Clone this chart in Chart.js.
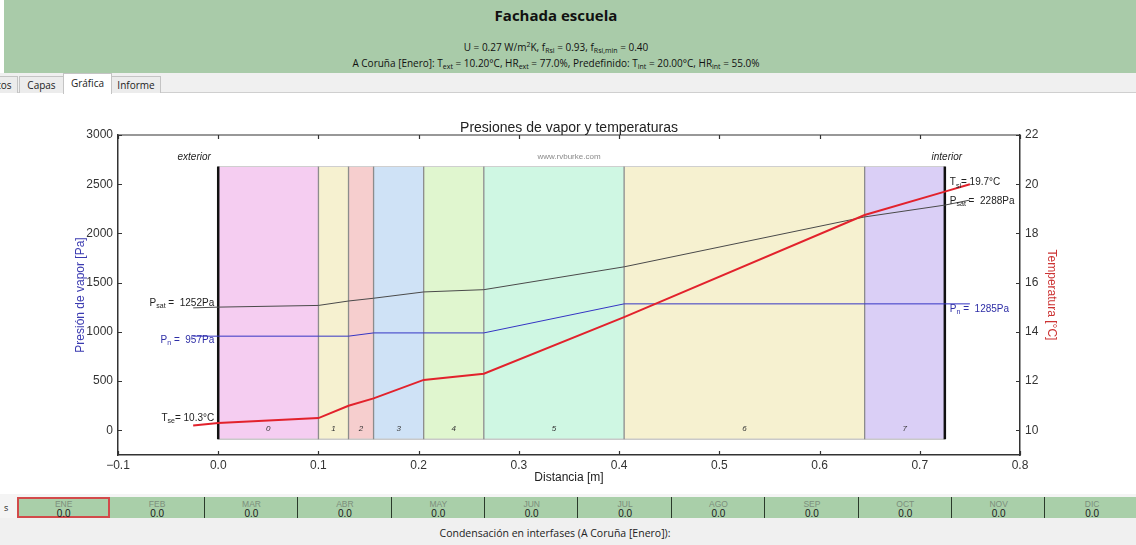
<!DOCTYPE html>
<html>
<head>
<meta charset="utf-8">
<script src="https://cdn.jsdelivr.net/npm/chart.js@4.4.0/dist/chart.umd.min.js"></script>
<style>
  body { margin: 0; width: 1136px; height: 545px; overflow: hidden; background: #fff; font-family: "Open Sans", sans-serif; position: relative; }
  #header { position: absolute; left: 4px; top: 0; width: 1132px; height: 73px; background: #a9cba9; color: #111; }
  #header div { position: absolute; left: 0; width: 1104px; text-align: center; white-space: nowrap; }
  #header .big { top: 5px; font-size: 15px; font-weight: bold; }
  #header .small { font-size: 10px; }
  sub { font-size: 7px; vertical-align: -2px; }
  sup { font-size: 7px; vertical-align: 4px; }
  #tabs { position: absolute; left: 0; top: 73px; width: 1136px; height: 19px; background: #f0f0f0; border-bottom: 1px solid #cfcfcf; }
  .tab { position: absolute; top: 3px; height: 16px; font-size: 10px; line-height: 16px; text-align: center; background: #ececec; border: 1px solid #c4c4c4; border-bottom: none; color: #222; }
  .tab.sel { top: 0; height: 20px; line-height: 19px; background: #fff; }
  #chartBox { position: absolute; left: 0; top: 96px; width: 1136px; height: 394px; }
  #bottom { position: absolute; left: 0; top: 518px; width: 1136px; height: 27px; background: #f0f0f0; }
  #months { position: absolute; left: 0; top: 494px; width: 1136px; height: 24px; background: #f4f4f4; }
  .cell { position: absolute; top: 3px; height: 21px; background: #a9cfa9; text-align: center; }
  .cell .m { font-size: 8.5px; line-height: 9px; color: #7c8e7c; font-family: "Liberation Sans", sans-serif; }
  .cell .v { font-size: 10px; line-height: 10px; color: #1a1a1a; font-family: "Liberation Sans", sans-serif; }
</style>
</head>
<body>
<div id="header">
  <div class="big">Fachada escuela</div>
  <div class="small" style="top:40px">U = 0.27 W/m<sup>2</sup>K, f<sub>Rsi</sub> = 0.93, f<sub>Rsi,min</sub> = 0.40</div>
  <div class="small" style="top:56px">A Coruña [Enero]: T<sub>ext</sub> = 10.20°C, HR<sub>ext</sub> = 77.0%, Predefinido: T<sub>int</sub> = 20.00°C, HR<sub>int</sub> = 55.0%</div>
</div>
<div id="tabs">
  <div class="tab" style="left:-22px;width:38px">Datos</div>
  <div class="tab" style="left:19px;width:43px">Capas</div>
  <div class="tab sel" style="left:63px;width:47px">Gráfica</div>
  <div class="tab" style="left:111px;width:48px">Informe</div>
</div>
<div id="chartBox"><canvas id="chart"></canvas></div>
<div id="months"></div>
<div id="bottom"><div style="text-align:center;width:1110px;font-size:10.5px;line-height:30px;color:#222">Condensación en interfases (A Coruña [Enero]):</div></div>
<script>
// distance through the wall [m] and the values on each point
const distance = [-0.025, 0, 0.1, 0.13, 0.155, 0.205, 0.265, 0.405, 0.645, 0.725, 0.75];
const temperature = [10.2, 10.3, 10.5, 11.0, 11.3, 12.05, 12.3, 14.6, 18.75, 19.7, 20.0];
const pSat = [1244, 1252, 1269, 1314, 1342, 1406, 1429, 1661, 2168, 2288, 2339];
const pVapor = [957, 957, 957, 957, 990, 990, 990, 1285, 1285, 1285, 1285];

// axis ticks
const distanceTicks = [-0.1, 0, 0.1, 0.2, 0.3, 0.4, 0.5, 0.6, 0.7, 0.8];
const pressureTicks = [0, 500, 1000, 1500, 2000, 2500, 3000];
const temperatureTicks = [10, 12, 14, 16, 18, 20, 22];

// layers of the wall
const layerEdges = [0, 0.1, 0.13, 0.155, 0.205, 0.265, 0.405, 0.645, 0.725];
const layerNames = ['0', '1', '2', '3', '4', '5', '6', '7'];
const layerColors = ['#f5cdf1', '#f6f1d0', '#f6cece', '#cfe2f6', '#e0f6cf', '#cff7e3', '#f6f1d0', '#dacff6'];
const layerTop = 2680;
const layerBottom = -90;

// monthly condensation bar
const months = ['ENE', 'FEB', 'MAR', 'ABR', 'MAY', 'JUN', 'JUL', 'AGO', 'SEP', 'OCT', 'NOV', 'DIC'];
const condensation = [0, 0, 0, 0, 0, 0, 0, 0, 0, 0, 0, 0];

// month strip
const strip = document.getElementById('months');
strip.innerHTML = '<div style="position:absolute;left:4px;top:7px;font-size:9px;color:#222">s</div>';
months.forEach((m, i) => {
  const c = document.createElement('div');
  c.className = 'cell';
  c.style.left = (17 + i * 93.4) + 'px';
  c.style.width = '93.4px';
  if (i === 0) {
    c.style.boxSizing = 'border-box';
    c.style.border = '2px solid #d24a4a';
  } else if (i > 1) {
    c.style.borderLeft = '1.5px solid #2b3a2b';
  }
  c.innerHTML = '<div class="m" style="margin-top:' + (i === 0 ? 1 : 3) + 'px">' + m + '</div><div class="v">' + condensation[i].toFixed(1) + '</div>';
  strip.appendChild(c);
});

const pts = (ys) => distance.map((d, i) => ({x: d, y: ys[i]}));
const datasets = [];

datasets.push({data: pts(temperature), yAxisID: 'y2', borderColor: '#e2222c', borderWidth: 2, order: 0});
datasets.push({data: pts(pSat), yAxisID: 'y', borderColor: '#4a4a4a', borderWidth: 1, order: 0});
datasets.push({data: pts(pVapor), yAxisID: 'y', borderColor: '#3535c4', borderWidth: 1, order: 0});

layerEdges.forEach((e, i) => {
  const outer = i === 0 || i === layerEdges.length - 1;
  datasets.push({
    data: [{x: e, y: layerBottom}, {x: e, y: layerTop}], yAxisID: 'y',
    borderColor: outer ? '#111' : '#8c8c8c', borderWidth: outer ? 2.5 : 1.3, order: 1
  });
});
datasets.push({
  data: [{x: layerEdges[0], y: layerBottom}, {x: layerEdges[layerEdges.length - 1], y: layerBottom}], yAxisID: 'y',
  borderColor: '#c9c9c9', borderWidth: 1.5, order: 2
});
layerNames.forEach((n, i) => {
  datasets.push({
    data: [{x: layerEdges[i], y: layerTop}, {x: layerEdges[i + 1], y: layerTop}], yAxisID: 'y',
    borderColor: '#cfcfcf', borderWidth: 1, backgroundColor: layerColors[i],
    fill: {value: layerBottom}, order: 3
  });
});

function subText(ctx, parts, x, y, align) {
  const widths = parts.map(p => {
    ctx.font = p[1] ? '7px "Liberation Sans"' : '10px "Liberation Sans"';
    return ctx.measureText(p[0]).width;
  });
  const total = widths.reduce((a, b) => a + b, 0);
  let cx = align === 'right' ? x - total : x;
  ctx.textAlign = 'left';
  ctx.textBaseline = 'middle';
  parts.forEach((p, i) => {
    ctx.font = p[1] ? '7px "Liberation Sans"' : '10px "Liberation Sans"';
    ctx.fillText(p[0], cx, p[1] ? y + 3 : y);
    cx += widths[i];
  });
}

const overlay = {
  id: 'overlay',
  afterDatasetsDraw(chart) {
    const {ctx, chartArea: a, scales} = chart;
    const x = scales.x, y = scales.y, y2 = scales.y2;
    ctx.save();
    ctx.strokeStyle = '#333';
    ctx.lineWidth = 1.2;
    ctx.beginPath();
    ctx.moveTo(a.left, a.top); ctx.lineTo(a.right, a.top);
    x.ticks.forEach(t => {
      const px = Math.round(x.getPixelForValue(t.value)) + 0.5;
      ctx.moveTo(px, a.bottom); ctx.lineTo(px, a.bottom - 4);
      ctx.moveTo(px, a.top); ctx.lineTo(px, a.top + 4);
    });
    y.ticks.forEach(t => {
      const py = Math.round(y.getPixelForValue(t.value)) + 0.5;
      ctx.moveTo(a.left, py); ctx.lineTo(a.left + 4, py);
    });
    y2.ticks.forEach(t => {
      const py = Math.round(y2.getPixelForValue(t.value)) + 0.5;
      ctx.moveTo(a.right, py); ctx.lineTo(a.right - 4, py);
    });
    ctx.stroke();

    ctx.fillStyle = '#222';
    ctx.textAlign = 'center';
    ctx.textBaseline = 'middle';
    ctx.font = '14px "Liberation Sans"';
    ctx.fillText('Presiones de vapor y temperaturas', (a.left + a.right) / 2, a.top - 7);

    ctx.font = 'italic 10px "Liberation Sans"';
    ctx.fillText('exterior', x.getPixelForValue(-0.024), y.getPixelForValue(2775));
    ctx.fillText('interior', x.getPixelForValue(0.727), y.getPixelForValue(2775));
    ctx.fillStyle = '#8a8a8a';
    ctx.font = '8px "Liberation Sans"';
    ctx.fillText('www.rvburke.com', x.getPixelForValue(0.35), y.getPixelForValue(2775));

    ctx.fillStyle = '#333';
    ctx.font = 'italic 8px "Liberation Sans"';
    layerNames.forEach((n, i) => {
      ctx.fillText(n, x.getPixelForValue((layerEdges[i] + layerEdges[i + 1]) / 2), y.getPixelForValue(20));
    });

    const last = layerEdges.length - 1;
    const iIn = distance.indexOf(layerEdges[last]);
    const xl = x.getPixelForValue(0) - 4;
    const xr = x.getPixelForValue(layerEdges[last]) + 5;
    ctx.fillStyle = '#222';
    subText(ctx, [['P', 0], ['sat', 1], [' =  ' + pSat[1] + 'Pa', 0]], xl, y.getPixelForValue(pSat[1]) - 4, 'right');
    subText(ctx, [['T', 0], ['se', 1], ['= ' + temperature[1].toFixed(1) + '°C', 0]], xl, y2.getPixelForValue(temperature[1]) - 5, 'right');
    subText(ctx, [['T', 0], ['si', 1], ['= ' + temperature[iIn].toFixed(1) + '°C', 0]], xr, y2.getPixelForValue(temperature[iIn]) - 9, 'left');
    subText(ctx, [['P', 0], ['sat', 1], [' =  ' + pSat[iIn] + 'Pa', 0]], xr, y.getPixelForValue(pSat[iIn]) - 4, 'left');
    ctx.fillStyle = '#2e2ea6';
    subText(ctx, [['P', 0], ['n', 1], [' =  ' + pVapor[1] + 'Pa', 0]], xl, y.getPixelForValue(pVapor[1]) + 4, 'right');
    subText(ctx, [['P', 0], ['n', 1], [' =  ' + pVapor[iIn] + 'Pa', 0]], xr, y.getPixelForValue(pVapor[iIn]) + 5, 'left');
    ctx.restore();
  }
};

const tickFont = {family: 'Liberation Sans', size: 12};
const setTicks = (list) => (s) => { s.ticks = list.map(v => ({value: v})); };
new Chart(document.getElementById('chart'), {
  type: 'scatter',
  data: {datasets: datasets},
  options: {
    responsive: true,
    maintainAspectRatio: false,
    animation: false,
    showLine: true,
    elements: {point: {radius: 0, hoverRadius: 0}, line: {tension: 0}},
    layout: {padding: {top: 39, left: 69, right: 73, bottom: 0}},
    plugins: {legend: {display: false}, tooltip: {enabled: false}},
    scales: {
      x: {
        type: 'linear', min: -0.1, max: 0.8,
        afterBuildTicks: setTicks(distanceTicks),
        ticks: {color: '#333', font: tickFont, padding: 3,
          callback: v => v.toFixed(1).replace('-', '−')},
        grid: {display: false, drawTicks: false},
        border: {color: '#333', width: 1.5},
        title: {display: true, text: 'Distancia [m]', color: '#222', font: tickFont, padding: {top: 0, bottom: 5}},
        afterFit: s => { s.height = 35; }
      },
      y: {
        position: 'left', min: -250, max: 3000,
        afterBuildTicks: setTicks(pressureTicks),
        ticks: {color: '#333', font: tickFont, padding: 5, callback: v => String(v)},
        grid: {display: false, drawTicks: false},
        border: {color: '#333', width: 1.5},
        title: {display: true, text: 'Presión de vapor [Pa]', color: '#3a3ab0', font: tickFont, padding: {top: 4, bottom: 0}},
        afterFit: s => { s.width = 49; }
      },
      y2: {
        position: 'right', min: 9, max: 22,
        afterBuildTicks: setTicks(temperatureTicks),
        ticks: {color: '#333', font: tickFont, padding: 5, callback: v => String(v)},
        grid: {display: false, drawTicks: false},
        border: {color: '#333', width: 1.5},
        title: {display: true, text: 'Temperatura [°C]', color: '#cc3333', font: tickFont, padding: {top: 4, bottom: 0}},
        afterFit: s => { s.width = 43; }
      }
    }
  },
  plugins: [overlay]
});
</script>
</body>
</html>
